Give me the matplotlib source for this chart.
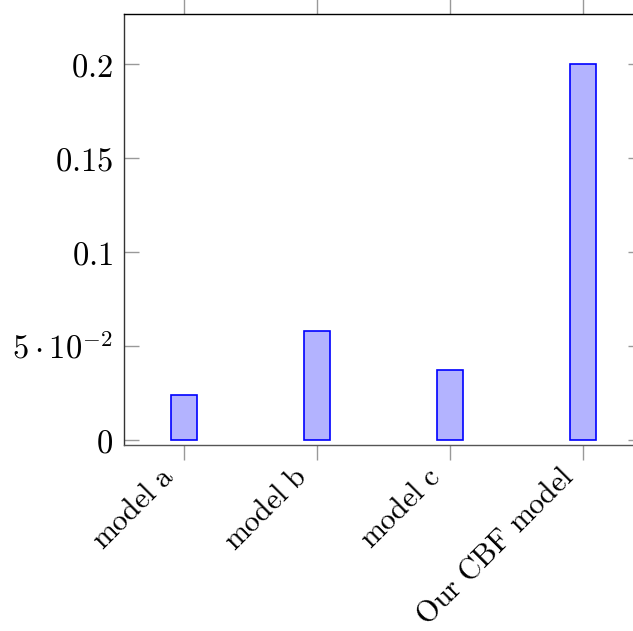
import matplotlib
matplotlib.use("Agg")
import matplotlib.pyplot as plt
import matplotlib.transforms as mtransforms

plt.rcParams["mathtext.fontset"] = "cm"
plt.rcParams["font.family"] = "serif"
plt.rcParams["font.serif"] = ["DejaVu Serif"]

# data
models = ["model a", "model b", "model c", "Our CBF model"]
values = [0.024, 0.058, 0.037, 0.200]
ytick_vals = [0.0, 0.05, 0.1, 0.15, 0.2]
ytick_labels = [r"$0$", r"$5\cdot 10^{-2}$", r"$0.1$", r"$0.15$", r"$0.2$"]

FILL = "#b3b3ff"
EDGE = "#0000ff"
TICK = "#999999"

fig = plt.figure(figsize=(6.33, 6.31), dpi=100)
ax = fig.add_axes([124 / 633, 1 - 445 / 631, (643 - 124) / 633, (445 - 14) / 631])

xs = list(range(len(models)))
ax.bar(xs, values, width=0.2, color=FILL, edgecolor=EDGE, linewidth=1.2, zorder=2)

ax.set_xlim(-0.45, 3.45)
ax.set_ylim(-0.0027, 0.2266)

ax.set_yticks(ytick_vals)
ax.set_yticklabels(ytick_labels, fontsize=23.5)
ax.set_xticks(xs)
ax.set_xticklabels([r"$\mathrm{" + m.replace(" ", r"\ ") + "}$" for m in models],
                   fontsize=21.5, rotation=45, ha="right", va="top",
                   rotation_mode="anchor")

ax.tick_params(axis="y", direction="in", length=11, color=TICK, width=1.0,
               left=True, right=True, pad=8)
ax.tick_params(axis="x", direction="out", length=11, color=TICK, width=1.0,
               bottom=True, top=True, pad=2)

# nudge rotated labels so their upper-right end sits under the tick
shift = mtransforms.ScaledTranslation(-24 / 100, 1 / 100, fig.dpi_scale_trans)
for lbl in ax.get_xticklabels():
    lbl.set_transform(lbl.get_transform() + shift)

for s in ax.spines.values():
    s.set_linewidth(1.0)
    s.set_color("black")
ax.spines["bottom"].set_color("#555555")
ax.spines["left"].set_color("#333333")

fig.savefig("out.png", dpi=100)
